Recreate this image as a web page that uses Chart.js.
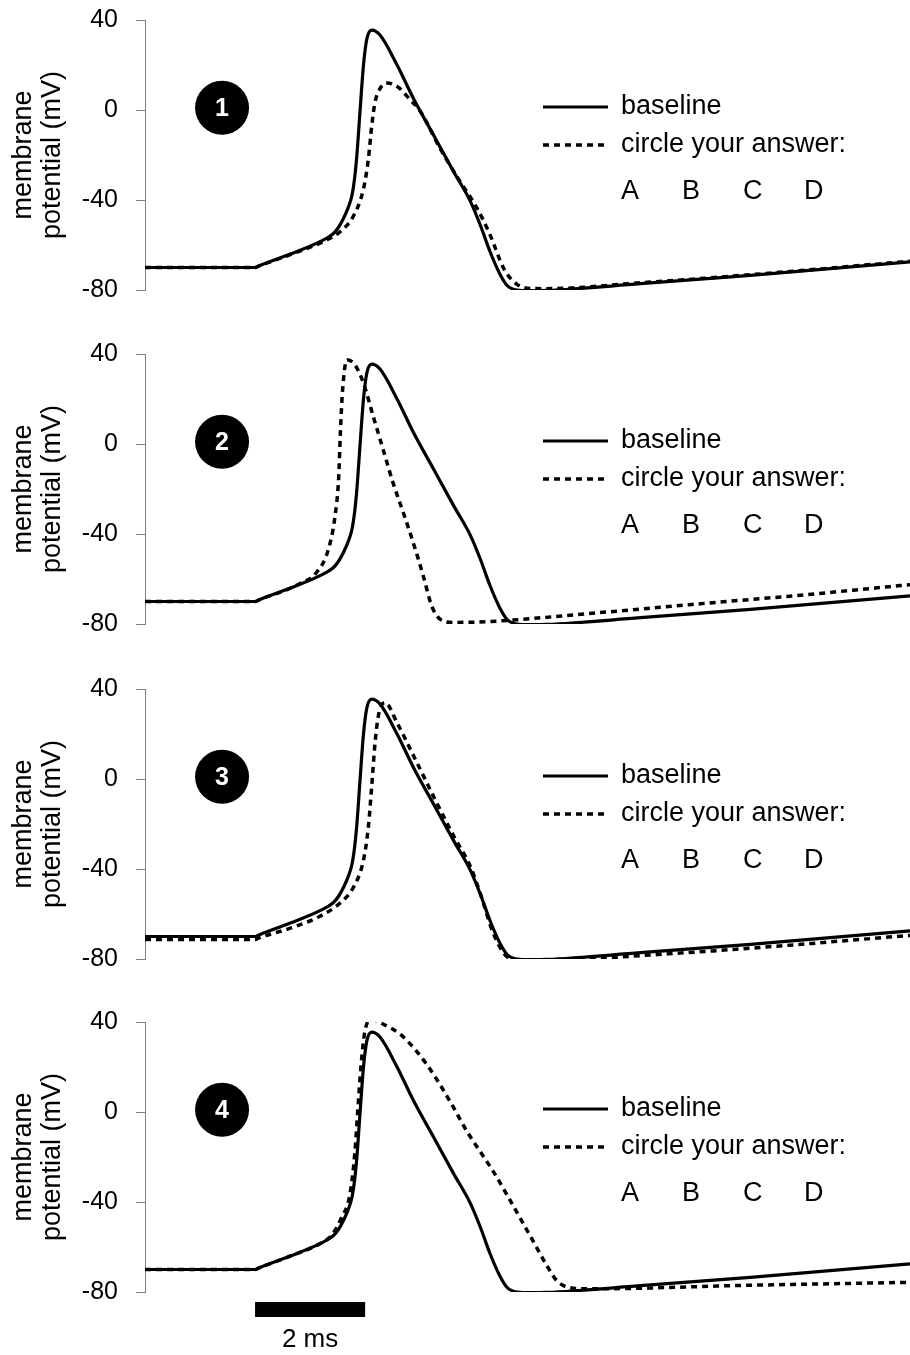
<!DOCTYPE html>
<html lang="en">
<head>
<meta charset="utf-8">
<title>membrane potential</title>
<script src="https://cdn.jsdelivr.net/npm/chart.js@4.4.1/dist/chart.umd.min.js"></script>
<style>
    body { margin: 0; background: #fff; }
    canvas { position: absolute; left: 0; }
</style>
</head>
<body>
<canvas id="p1" width="910" height="334" style="top:0px"></canvas>
<canvas id="p2" width="910" height="334" style="top:334px"></canvas>
<canvas id="p3" width="910" height="334" style="top:669px"></canvas>
<canvas id="p4" width="910" height="353" style="top:1002px"></canvas>

<script>
// time (ms) and membrane potential (mV)
var timeBase = [0, 2.0, 2.08, 2.64, 3.18, 3.42, 3.52, 3.61, 3.69, 3.76, 3.81, 3.85, 3.91, 3.97, 4.03, 4.12, 4.27, 4.58, 4.88, 5.24, 5.61, 5.91, 6.09, 6.27, 6.45, 6.58, 6.76, 7.0, 7.3, 9.0, 11.0, 13.9];
var mvBase = [-70, -70, -69.2, -64, -58.5, -55, -52, -48, -43.5, -38, -30, -20, 0.5, 20, 31.5, 35.5, 33.3, 20, 5, -11, -27.5, -40.5, -51, -63, -73, -78, -80, -80.3, -80.2, -77.2, -73.5, -67.5];

var time1 = [0, 2.0, 2.08, 2.64, 3.18, 3.3, 3.55, 3.79, 3.97, 4.06, 4.12, 4.18, 4.27, 4.39, 4.58, 4.82, 5.0, 5.36, 5.73, 6.03, 6.27, 6.52, 6.76, 7.0, 7.3, 9.0, 11.0, 13.9];
var mv1 = [-70, -70, -69.2, -64.3, -59.2, -57.8, -54, -47, -35, -21.5, -7, 3.5, 9.5, 12, 10.5, 4.5, -0.5, -17, -32, -43.5, -55.5, -70.5, -77.5, -79.3, -79.4, -76.8, -73.2, -67.2];

var time2 = [0, 2.0, 2.08, 2.82, 3.12, 3.33, 3.45, 3.52, 3.55, 3.59, 3.67, 3.82, 3.97, 4.15, 4.33, 4.51, 4.7, 4.88, 5.06, 5.21, 5.36, 5.61, 6.27, 8.0, 10.09, 12.0, 13.9];
var mv2 = [-70, -70, -69.2, -62, -57, -47, -32.5, -14.5, 5, 24, 37.5, 35, 27, 12, -2.7, -17.5, -31, -44.3, -59, -72, -77.8, -79.3, -78.9, -75.5, -71, -67, -62.5];

var time3 = [0, 2.0, 2.08, 2.64, 3.18, 3.55, 3.79, 3.97, 4.06, 4.12, 4.18, 4.24, 4.36, 4.58, 4.88, 5.24, 5.61, 5.91, 6.09, 6.33, 6.58, 6.88, 7.3, 9.0, 11.0, 13.9];
var mv3 = [-71.3, -71.3, -70.5, -66.3, -61, -55, -48, -36, -21, -3, 16, 28, 34, 25, 10.3, -7.6, -25.4, -38.8, -50.7, -68.6, -79, -80.8, -80.8, -78.5, -75.2, -69.5];

var time4 = [0, 2.0, 2.08, 2.64, 3.18, 3.40, 3.57, 3.72, 3.81, 3.87, 3.93, 3.99, 4.09, 4.33, 4.64, 4.88, 5.12, 5.36, 5.61, 5.85, 6.09, 6.33, 6.58, 6.82, 7.06, 7.3, 7.48, 7.67, 8.03, 11.0, 13.9];
var mv4 = [-70, -70, -69.2, -64, -58.5, -54.5, -47, -37, -19, 2, 22, 35, 41.2, 39, 34.5, 28.6, 21.1, 12.2, 1.8, -8.6, -17.6, -26.5, -36.9, -47.3, -57.7, -68.2, -74.9, -77.8, -78.6, -77, -75.7];

var yTicks = [-80, -40, 0, 40];
var seriesLabels = ['baseline', 'circle your answer:'];
var answerChoices = ['A', 'B', 'C', 'D'];
var panelNumbers = ['1', '2', '3', '4'];
var scaleBarMs = 2;       // length of the time scale bar
var scaleBarStart = 2;    // ms where the bar starts
var badgeAt = [1.4, 1];   // badge centre in data units (ms, mV)

var fam = "'Liberation Sans', Arial, Helvetica, sans-serif";
Chart.defaults.font.family = fam;
Chart.defaults.color = '#000';

function pts(t, v) {
    return t.map(function (x, i) { return { x: x, y: v[i] }; });
}

// badge, legend and scale bar
var decor = {
    id: 'decor',
    afterDraw: function (chart, args, opts) {
        var ctx = chart.ctx, a = chart.chartArea;
        var xs = chart.scales.x, ys = chart.scales.y;
        ctx.save();

        var bx = xs.getPixelForValue(badgeAt[0]), by = ys.getPixelForValue(badgeAt[1]);
        ctx.beginPath();
        ctx.arc(bx, by, 27, 0, Math.PI * 2);
        ctx.fillStyle = '#000';
        ctx.fill();
        ctx.fillStyle = '#fff';
        ctx.font = 'bold 25px ' + fam;
        ctx.textAlign = 'center';
        ctx.textBaseline = 'middle';
        ctx.fillText(opts.num, bx, by + 1);

        // legend
        var rows = [87, 125];
        ctx.textAlign = 'left';
        ctx.textBaseline = 'middle';
        ctx.font = '27px ' + fam;
        chart.data.datasets.forEach(function (ds, i) {
            var ly = a.top + rows[i];
            ctx.beginPath();
            ctx.setLineDash(ds.borderDash || []);
            ctx.lineWidth = ds.borderWidth;
            ctx.strokeStyle = ds.borderColor;
            ctx.moveTo(543, ly);
            ctx.lineTo(i == 0 ? 608 : 605, ly);
            ctx.stroke();
            ctx.setLineDash([]);
            ctx.fillStyle = '#000';
            ctx.fillText(ds.label, 621, ly);
        });
        ctx.textBaseline = 'alphabetic';
        answerChoices.forEach(function (c, i) {
            ctx.fillText(c, 621 + i * 61, a.top + 179);
        });

        if (opts.scaleBar) {
            var x0 = xs.getPixelForValue(scaleBarStart);
            var x1 = xs.getPixelForValue(scaleBarStart + scaleBarMs);
            ctx.fillStyle = '#000';
            ctx.fillRect(x0, a.bottom + 10, x1 - x0, 15);
            ctx.font = '26px ' + fam;
            ctx.textAlign = 'center';
            ctx.textBaseline = 'middle';
            ctx.fillText(scaleBarMs + ' ms', (x0 + x1) / 2, a.bottom + 48);
        }
        ctx.restore();
    }
};

var panels = [
    { id: 'p1', t: time1, v: mv1 },
    { id: 'p2', t: time2, v: mv2 },
    { id: 'p3', t: time3, v: mv3 },
    { id: 'p4', t: time4, v: mv4 }
];

panels.forEach(function (p, i) {
    var last = i == panels.length - 1;
    new Chart(document.getElementById(p.id), {
        type: 'line',
        data: {
            datasets: [{
                label: seriesLabels[0],
                data: pts(timeBase, mvBase),
                borderColor: '#000',
                borderWidth: 3.2,
                pointRadius: 0,
                cubicInterpolationMode: 'monotone'
            }, {
                label: seriesLabels[1],
                data: pts(p.t, p.v),
                borderColor: '#000',
                borderWidth: 3.5,
                borderDash: [6, 5],
                borderCapStyle: 'butt',
                pointRadius: 0,
                cubicInterpolationMode: 'monotone'
            }]
        },
        options: {
            responsive: false,
            animation: false,
            events: [],
            layout: { padding: { top: 20, bottom: last ? 63 : 44, left: 0, right: 0 } },
            plugins: {
                legend: { display: false },
                tooltip: { enabled: false },
                decor: { num: panelNumbers[i], scaleBar: last }
            },
            scales: {
                x: { type: 'linear', min: 0, max: 13.9, display: false },
                y: {
                    min: -80, max: 40,
                    afterFit: function (s) {
                        s.width = 145;
                        // don't let the tick labels push the plot down
                        s.paddingTop = 0;
                        s.paddingBottom = 0;
                    },
                    afterBuildTicks: function (s) { s.ticks = yTicks.map(function (v) { return { value: v }; }); },
                    border: { color: '#808080', width: 1 },
                    grid: { drawOnChartArea: false, tickLength: 9, color: '#808080', lineWidth: 1 },
                    ticks: { font: { size: 25 }, color: '#000', padding: 18 },
                    title: {
                        display: true,
                        text: ['membrane', 'potential (mV)'],
                        font: { size: 27, lineHeight: 1.08 },
                        color: '#000',
                        padding: { top: 9, bottom: 0 }
                    }
                }
            }
        },
        plugins: [decor]
    });
});
</script>
</body>
</html>
